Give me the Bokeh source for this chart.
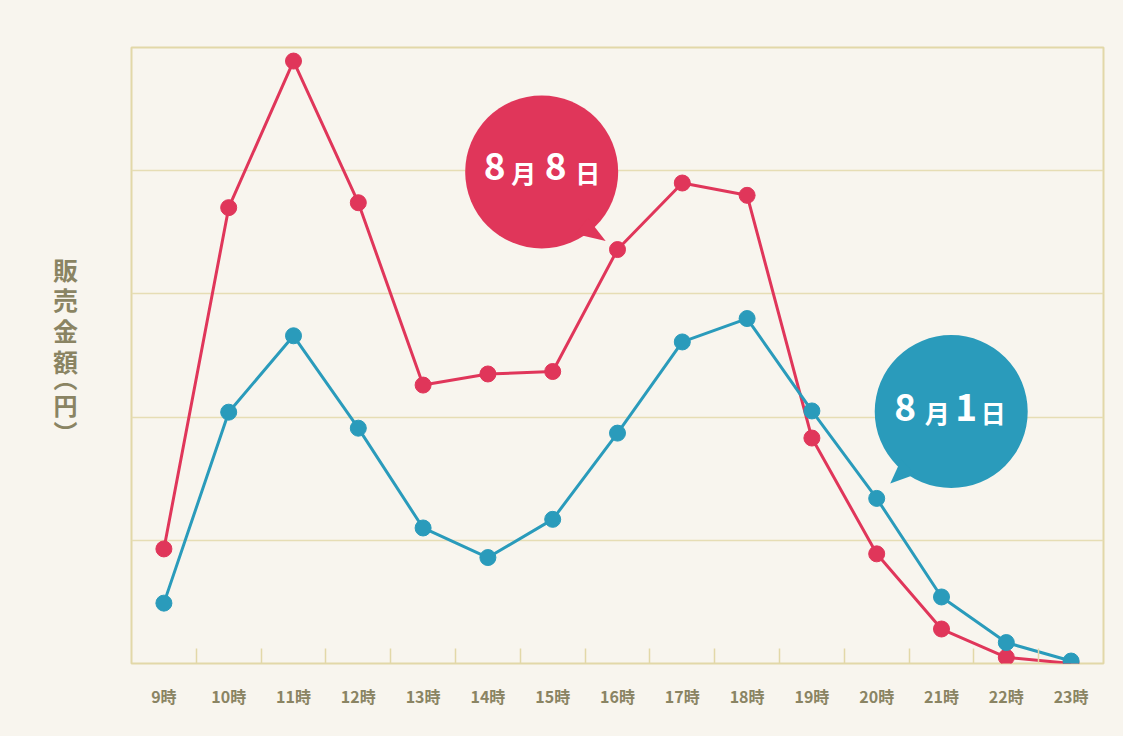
from bokeh.plotting import figure
from bokeh.layouts import row
from bokeh.models import Range1d, FixedTicker, Label
from bokeh.embed import file_html
from bokeh.resources import INLINE

# ---- data ----
hours = ["9時", "10時", "11時", "12時", "13時", "14時", "15時", "16時",
         "17時", "18時", "19時", "20時", "21時", "22時", "23時"]
sales_aug8 = [9300, 37000, 48900, 37400, 22600, 23500, 23700, 33600,
              39000, 38000, 18300, 8900, 2800, 500, 0]
sales_aug1 = [4900, 20400, 26600, 19100, 11000, 8600, 11700, 18700,
              26100, 28000, 20500, 13400, 5400, 1700, 200]
series_names = ["8月8日", "8月1日"]
y_title_main = "販\n売\n金\n額"
y_title_unit = "︵\n円\n︶"
y_max = 50000
y_grid = [10000, 20000, 30000, 40000]

# ---- style ----
BG = "#f8f5ee"
GRID = "#e6ddb4"
FRAME = "#e2d8a8"
TXT = "#8a8463"
RED = "#e0365a"
BLUE = "#2a9bbb"

H = 736
SIDE_W = 100                  # narrow panel holding the vertical y title
W = 1123 - SIDE_W
LEFT, RIGHT, TOP, BOTTOM = 31, 20, 47, 73
FW = W - LEFT - RIGHT
FH = H - TOP - BOTTOM

# ---- side panel with vertical (upright) y-axis title ----
# (the row aligns its frame with the main chart's frame: top 47, bottom 663)
side = figure(width=SIDE_W, height=H, output_backend="svg", toolbar_location=None,
              x_range=Range1d(0, SIDE_W), y_range=Range1d(0, FH),
              min_border_left=0, min_border_right=0,
              min_border_top=TOP, min_border_bottom=BOTTOM)
side.axis.visible = False
side.grid.visible = False
side.outline_line_color = None
side.background_fill_color = None
side.border_fill_color = BG
frame_bottom = H - BOTTOM
side.add_layout(Label(x=65, y=frame_bottom - 250, x_units="screen", y_units="screen",
                      text=y_title_main, text_align="center", text_baseline="top",
                      text_line_height=0.855, text_color=TXT,
                      text_font="Noto Sans CJK JP", text_font_style="bold",
                      text_font_size="25px"))
side.add_layout(Label(x=65, y=frame_bottom - 404, x_units="screen", y_units="screen",
                      text=y_title_unit, text_align="center", text_baseline="middle",
                      text_line_height=0.76, text_color=TXT,
                      text_font="Noto Sans CJK JP", text_font_style="bold",
                      text_font_size="24px"))

# ---- main chart ----
x = list(range(len(hours)))
p = figure(width=W, height=H, output_backend="svg", toolbar_location=None,
           x_range=Range1d(-0.5, len(hours) - 0.5), y_range=Range1d(0, y_max),
           min_border_left=LEFT, min_border_right=RIGHT,
           min_border_top=TOP, min_border_bottom=BOTTOM)
p.background_fill_color = None
p.border_fill_color = BG
p.outline_line_color = FRAME
p.outline_line_width = 2

p.yaxis.visible = False
p.xgrid.visible = False
p.ygrid.ticker = FixedTicker(ticks=y_grid)
p.ygrid.grid_line_color = GRID
p.ygrid.grid_line_width = 1.3

ax = p.xaxis[0]
ax.ticker = FixedTicker(ticks=x, minor_ticks=[i + 0.5 for i in x[:-1]])
ax.major_label_overrides = {i: h for i, h in zip(x, hours)}
ax.axis_line_color = None
ax.major_tick_line_color = None
ax.minor_tick_line_color = FRAME
ax.minor_tick_line_width = 1.5
ax.minor_tick_in = 15
ax.minor_tick_out = 0
ax.major_label_standoff = 14
ax.major_label_text_font = "Noto Sans CJK JP"
ax.major_label_text_font_size = "16px"
ax.major_label_text_font_style = "bold"
ax.major_label_text_color = TXT

# lines
p.line(x, sales_aug8, line_color=RED, line_width=3)
p.scatter(x, sales_aug8, size=16, fill_color=RED, line_color=RED)
p.line(x, sales_aug1, line_color=BLUE, line_width=3)
p.scatter(x, sales_aug1, size=16, fill_color=BLUE, line_color=BLUE)

# ---- speech bubbles ----
PXX = FW / len(hours)        # px per category
PXY = FH / y_max             # px per value unit


def off(cx, cy, dx, dy):
    """pixel offset (dx right, dy down) -> data coords"""
    return cx + dx / PXX, cy - dy / PXY


def bubble(cx, cy, color, tail, chars):
    p.scatter([cx], [cy], size=153, fill_color=color, line_color=None)
    pts = [off(cx, cy, dx, dy) for dx, dy in tail]
    p.patch([q[0] for q in pts], [q[1] for q in pts], fill_color=color, line_color=None)
    for ch, dx, dy in chars:
        big = ch.isdigit()
        p.add_layout(Label(x=cx, y=cy, x_offset=dx, y_offset=dy, text=ch,
                           text_align="center", text_baseline="middle",
                           text_color="white", text_font="Noto Sans CJK JP",
                           text_font_style="bold",
                           text_font_size="37px" if big else "25px"))


# red bubble (8月8日)
bubble(5.83, 39900, RED,
       [(46, 46), (64, 69), (34, 62)],
       [("8", -47, 5), ("月", -18, 0), ("8", 14, 5), ("日", 46, 0)])
# blue bubble (8月1日)
bubble(12.15, 20450, BLUE,
       [(-50, 48), (-61, 72), (-36, 63)],
       [("8", -46, 4), ("月", -14, 0), ("1", 15, 4), ("日", 42, 0)])

layout = row(side, p, spacing=0, styles={"background-color": BG})
open("out.html", "w").write(file_html(layout, INLINE))
